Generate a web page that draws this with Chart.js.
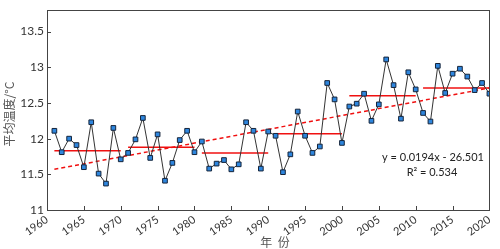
<!DOCTYPE html>
<html>
<head>
<meta charset="utf-8">
<script src="https://cdn.jsdelivr.net/npm/chart.js@4"></script>
<style>
  html, body { margin: 0; padding: 0; background: #fff; }
  #wrap { width: 500px; height: 249px; position: relative; }
</style>
</head>
<body>
<div id="wrap"><canvas id="chart"></canvas></div>
<script>
// 年平均温度 1961-2020
const years = [];
for (let y = 1961; y <= 2020; y++) years.push(y);
const temps = [
    12.11, 11.81, 12.00, 11.91, 11.60, 12.23, 11.51, 11.37, 12.15, 11.71,
    11.80, 11.99, 12.29, 11.73, 12.06, 11.41, 11.66, 11.98, 12.11, 11.81,
    11.96, 11.58, 11.65, 11.70, 11.57, 11.64, 12.23, 12.11, 11.58, 12.10,
    12.04, 11.53, 11.78, 12.38, 12.04, 11.80, 11.89, 12.78, 12.55, 11.94,
    12.45, 12.49, 12.63, 12.25, 12.48, 13.11, 12.75, 12.28, 12.93, 12.69,
    12.36, 12.24, 13.02, 12.64, 12.91, 12.98, 12.87, 12.68, 12.78, 12.63
];

// 年代平均 (起始年, 结束年, 均值)
const decadeStart = [1961, 1971, 1981, 1991, 2001, 2011];
const decadeEnd = [1970, 1980, 1990, 2000, 2010, 2020];
const decadeMean = [11.83, 11.88, 11.80, 12.07, 12.60, 12.71];

// 线性趋势 (读取端点)
const trendYears = [1961, 2020];
const trendValues = [11.57, 12.71];
const trendText = ['y = 0.0194x - 26.501', 'R\u00b2 = 0.534'];

const yTicks = [11, 11.5, 12, 12.5, 13, 13.5];
const xTicks = [1960, 1965, 1970, 1975, 1980, 1985, 1990, 1995, 2000, 2005, 2010, 2015, 2020];

const axisColor = '#444';
const latin = 'Lato, "Open Sans", sans-serif';
const cjk = '"Noto Sans CJK SC", sans-serif';

const datasets = [];
datasets.push({
    data: years.map((y, i) => ({ x: y, y: temps[i] })),
    borderColor: '#333',
    borderWidth: 1,
    pointStyle: 'rect',
    pointRadius: 3.3,
    pointBackgroundColor: '#2e86de',
    pointBorderColor: '#15243a',
    pointBorderWidth: 1,
    order: 0
});
datasets.push({
    data: trendYears.map((y, i) => ({ x: y, y: trendValues[i] })),
    borderColor: '#f01010',
    borderWidth: 1.5,
    borderDash: [4, 3],
    pointRadius: 0,
    order: 2
});
decadeStart.forEach((s, i) => {
    datasets.push({
        data: [{ x: s, y: decadeMean[i] }, { x: decadeEnd[i], y: decadeMean[i] }],
        borderColor: '#f01010',
        borderWidth: 1.5,
        pointRadius: 0,
        order: 1
    });
});

// 边框、内向刻度、标题
const decor = {
    id: 'decor',
    afterDraw(chart) {
        const ctx = chart.ctx;
        const a = chart.chartArea;
        const xs = chart.scales.x, ys = chart.scales.y;
        ctx.save();
        ctx.strokeStyle = axisColor;
        ctx.lineWidth = 1;
        ctx.strokeRect(Math.round(a.left) + 0.5, Math.round(a.top) + 0.5,
            Math.round(a.right - a.left), Math.round(a.bottom - a.top));
        ctx.beginPath();
        xTicks.forEach(t => {
            const px = Math.round(xs.getPixelForValue(t)) + 0.5;
            ctx.moveTo(px, a.bottom);
            ctx.lineTo(px, a.bottom - 4);
        });
        yTicks.forEach(t => {
            const py = Math.round(ys.getPixelForValue(t)) + 0.5;
            ctx.moveTo(a.left, py);
            ctx.lineTo(a.left + 4, py);
        });
        ctx.stroke();

        ctx.fillStyle = '#222';
        ctx.font = '11px ' + latin;
        ctx.textAlign = 'center';
        ctx.textBaseline = 'middle';
        ctx.fillText(trendText[0], 433, 157);
        ctx.fillText(trendText[1], 432, 172);

        ctx.fillStyle = '#555';
        ctx.font = '12px ' + cjk;
        ctx.fillText('年  份', 275, 242);
        ctx.translate(9, 114);
        ctx.rotate(-Math.PI / 2);
        ctx.fillText('平均温度/°C', 0, 0);
        ctx.restore();
    }
};

new Chart(document.getElementById('chart'), {
    type: 'line',
    data: { datasets },
    options: {
        responsive: true,
        maintainAspectRatio: false,
        animation: false,
        layout: { padding: { top: 2, right: 4, left: 0, bottom: 0 } },
        plugins: { legend: { display: false }, tooltip: { enabled: false } },
        scales: {
            x: {
                type: 'linear',
                min: 1960, max: 2020,
                afterBuildTicks: s => { s.ticks = xTicks.map(v => ({ value: v })); },
                afterFit: s => { s.height = 39; },
                grid: { display: false, drawTicks: false },
                border: { display: true, color: axisColor },
                ticks: {
                    minRotation: 35, maxRotation: 35, padding: 3,
                    color: '#333', font: { family: latin, size: 11 },
                    callback: v => String(v)
                }
            },
            y: {
                min: 11, max: 13.8,
                afterBuildTicks: s => { s.ticks = yTicks.map(v => ({ value: v })); },
                afterFit: s => { s.width = 47; },
                grid: { display: false, drawTicks: false },
                border: { display: true, color: axisColor },
                ticks: {
                    padding: 3,
                    color: '#333', font: { family: latin, size: 12 },
                    callback: v => String(v)
                }
            }
        }
    },
    plugins: [decor]
});
</script>
</body>
</html>
